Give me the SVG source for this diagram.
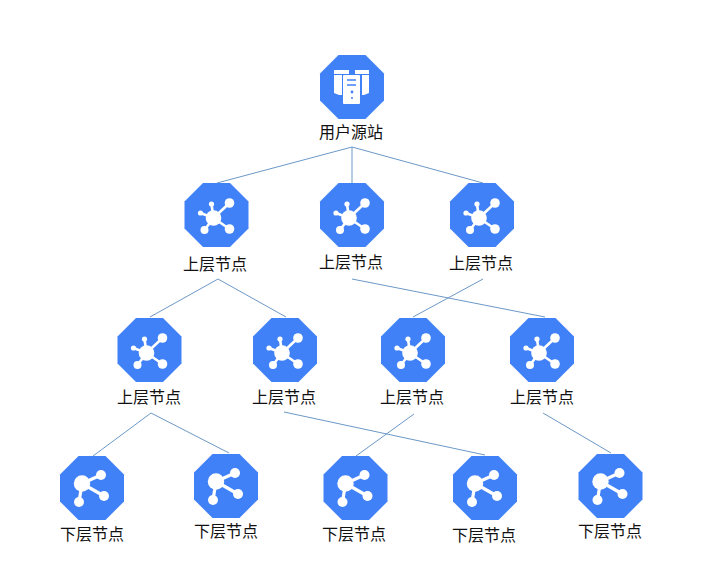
<svg xmlns="http://www.w3.org/2000/svg" xmlns:xlink="http://www.w3.org/1999/xlink" width="717" height="581" viewBox="0 0 717 581">
<style>
.c{fill:none;stroke:#6c98c8;stroke-width:1}
.o{fill:#4081f7}
.w{fill:#fff}
.l{stroke:#fff;stroke-width:2.6;fill:none}
text{font-family:"Noto Sans CJK SC","Liberation Sans",sans-serif;font-size:16px;fill:#111;text-anchor:middle}
</style>
<defs>
<polygon id="oct" class="o" points="-13.5,-32 13.5,-32 32,-13.5 32,13.5 13.5,32 -13.5,32 -32,13.5 -32,-13.5"/>
<g id="up">
<use href="#oct"/>
<path class="l" d="M-3,3L13,-12M-3,3L13,14M-3,3L-12,15M-3,3L-5,-11M-3,3L-16,-2"/>
<circle class="w" cx="-3" cy="3" r="7.8"/>
<circle class="w" cx="13" cy="-12" r="4.8"/>
<circle class="w" cx="13" cy="14" r="4.8"/>
<circle class="w" cx="-12" cy="15" r="4"/>
<circle class="w" cx="-5" cy="-11" r="2.6"/>
<circle class="w" cx="-16" cy="-2" r="2.6"/>
</g>
<g id="low">
<use href="#oct"/>
<path d="M-10,-4.500L9,-13M-10,-4.500L12,8M-10,-4.500L-13,14" stroke="#fff" stroke-width="3.2" fill="none"/>
<circle class="w" cx="-10" cy="-4.500" r="8.200"/>
<circle class="w" cx="9" cy="-13" r="5"/>
<circle class="w" cx="12" cy="8" r="5"/>
<circle class="w" cx="-13" cy="14" r="5"/>
</g>
</defs>
<g id="connectors">
<path class="c" d="M352,147L217,183M352,147L352,183M352,147L483,183"/>
<path class="c" d="M218,279L150,317M218,279L286,317M352,279L545,317M483,279L413,317"/>
<path class="c" d="M151,413L93,456M151,413L229,453M284,412L485,455M414,414L356,456M543,413L611,453"/>
</g>
<g id="source">
<use href="#oct" x="352" y="87"/>
<g transform="translate(352,87)">
<path class="w" d="M-18,-17H-3V-13H-18ZM3,-17H17V-13H3ZM-18,-12H-10V8H-13L-18,6ZM10,-12H17V6L12,8H10Z"/>
<rect class="w" x="-9" y="-12" width="17" height="29" rx="1"/>
<path stroke="#4081f7" stroke-width="1.6" fill="none" d="M-5,-7H4M-5,-2H4"/>
<circle class="o" cx="0" cy="5" r="1.4"/><circle class="o" cx="0" cy="11" r="1"/>
</g>
<text x="351" y="138">用户源站</text>
</g>
<g id="u1"><use href="#up" x="216.500" y="215"/><text x="215" y="270">上层节点</text></g>
<g id="u2"><use href="#up" x="352" y="215"/><text x="351" y="268">上层节点</text></g>
<g id="u3"><use href="#up" x="482" y="215"/><text x="481" y="269">上层节点</text></g>
<g id="m1"><use href="#up" x="149.500" y="350"/><text x="149" y="403">上层节点</text></g>
<g id="m2"><use href="#up" x="285" y="350"/><text x="284" y="403">上层节点</text></g>
<g id="m3"><use href="#up" x="413" y="350"/><text x="412" y="403">上层节点</text></g>
<g id="m4"><use href="#up" x="542" y="350"/><text x="542" y="403">上层节点</text></g>
<g id="d1"><use href="#low" x="92" y="488"/><text x="92" y="540">下层节点</text></g>
<g id="d2"><use href="#low" x="226" y="486"/><text x="226" y="537">下层节点</text></g>
<g id="d3"><use href="#low" x="355.500" y="488"/><text x="354" y="540">下层节点</text></g>
<g id="d4"><use href="#low" x="485" y="488"/><text x="484" y="541">下层节点</text></g>
<g id="d5"><use href="#low" x="610.500" y="486"/><text x="610" y="537">下层节点</text></g>
</svg>
